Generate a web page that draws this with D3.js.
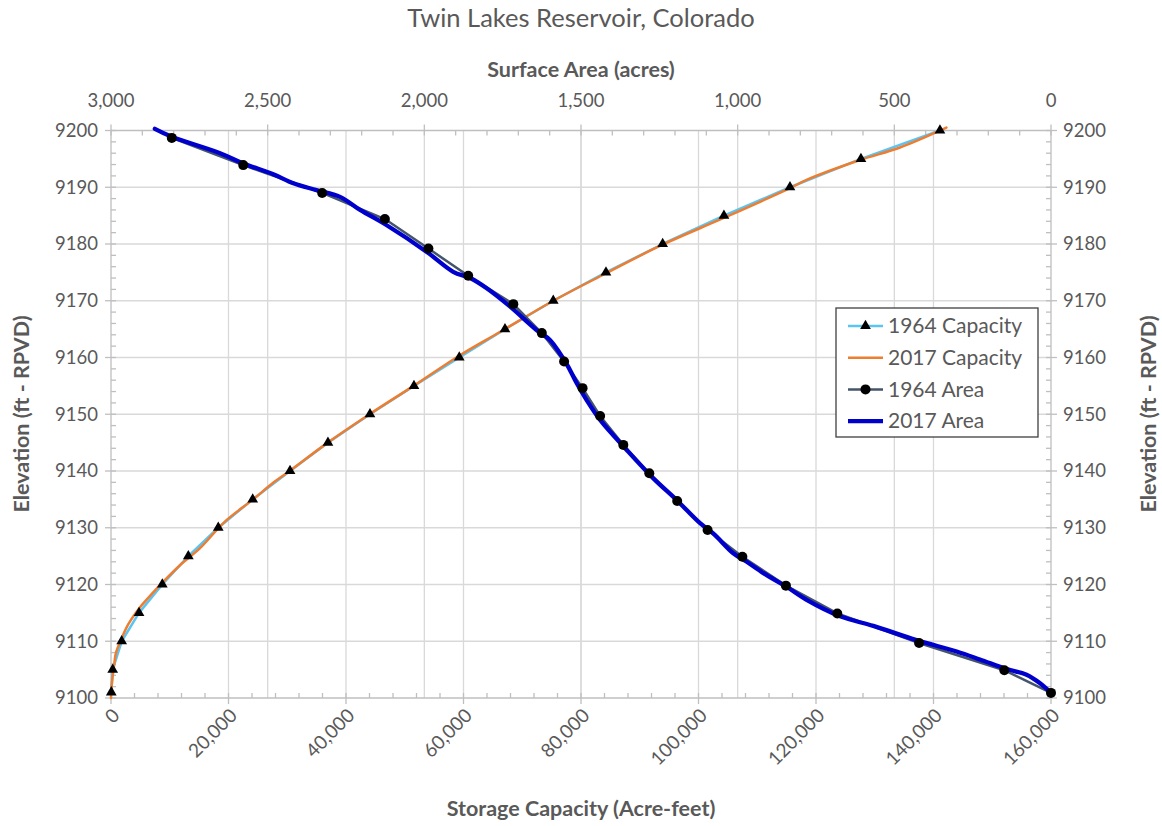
<!DOCTYPE html>
<html>
<head>
<meta charset="utf-8">
<script src="https://cdn.jsdelivr.net/npm/d3@7"></script>
<style>
  body { margin: 0; background: #fff; }
  text { font-family: Lato, "Open Sans", sans-serif; fill: #595959; }
</style>
</head>
<body>
<svg id="chart" width="1162" height="826"></svg>
<script>
// elevation (ft) vs storage capacity (acre-feet), 1964 survey
var cap64Elev = [9101, 9105, 9110, 9115, 9120, 9125, 9130, 9135, 9140, 9145, 9150, 9155, 9160, 9165, 9170, 9175, 9180, 9185, 9190, 9195, 9200];
var cap64Val = [50, 290, 1820, 4770, 8730, 13160, 18260, 24120, 30470, 36930, 44080, 51570, 59280, 67060, 75280, 84250, 93900, 104330, 115570, 127650, 141100];

// 2017 survey capacity
var cap17Elev = [9100, 9102, 9104, 9106, 9108, 9110, 9113, 9116, 9118, 9120.5, 9123.4, 9126.4, 9131, 9135, 9138, 9140, 9145, 9150, 9155, 9160.4, 9164.5, 9170, 9174.8, 9179.8, 9184.5, 9189.7, 9191.3, 9194.8, 9197, 9200.5];
var cap17Val = [0, 100, 300, 550, 850, 1600, 2950, 4940, 6640, 8900, 11740, 15150, 19300, 24200, 27700, 30400, 36900, 44000, 51500, 59400, 66200, 75300, 84200, 93700, 104100, 115300, 118400, 127500, 134300, 142200];

// surface area (acres), 1964 survey
var area64Elev = [9100.9, 9104.9, 9109.7, 9114.9, 9119.8, 9124.9, 9129.6, 9134.7, 9139.6, 9144.6, 9149.7, 9154.6, 9159.3, 9164.3, 9169.4, 9174.4, 9179.2, 9184.4, 9189.0, 9193.9, 9198.7];
var area64Val = [0, 149, 421, 682, 846, 985, 1096, 1193, 1282, 1365, 1439, 1495, 1554, 1625, 1716, 1860, 1987, 2126, 2326, 2578, 2806];

// surface area, 2017 survey
var area17Elev = [9100.9, 9102.6, 9104.1, 9105.1, 9106.8, 9108.2, 9110.2, 9112.7, 9114.4, 9117.3, 9119.6, 9122.0, 9124.0, 9125.5, 9129.0, 9130.8, 9134.9, 9138.7, 9143.7, 9149.0, 9152.5, 9155.5, 9158.4, 9160.7, 9163.1, 9164.8, 9169.0, 9172.2, 9174.0, 9175.1, 9178.6, 9183.3, 9186.0, 9188.3, 9189.5, 9190.7, 9192.3, 9194.2, 9196.0, 9198.9, 9200.3];
var area17Val = [0, 35, 78, 141, 227, 301, 429, 567, 673, 780, 844, 918, 971, 1014, 1078, 1120, 1195, 1269, 1354, 1439, 1482, 1514, 1541, 1567, 1599, 1641, 1727, 1801, 1854, 1908, 1992, 2120, 2205, 2269, 2344, 2418, 2482, 2578, 2652, 2806, 2860];

var elevTicks = [9100, 9110, 9120, 9130, 9140, 9150, 9160, 9170, 9180, 9190, 9200];
var capTicks = [0, 20000, 40000, 60000, 80000, 100000, 120000, 140000, 160000];
var areaTicks = [3000, 2500, 2000, 1500, 1000, 500, 0];

var seriesNames = ['1964 Capacity', '2017 Capacity', '1964 Area', '2017 Area'];
var seriesColors = ['#5bc4f1', '#ed7d31', '#44546a', '#0000cc'];

var zip = (e, v) => e.map((d, i) => ({ elev: d, val: v[i] }));

var svg = d3.select('#chart');
var L = 111, R = 1051, T = 130.5, B = 698;

var x = d3.scaleLinear().domain([0, 160000]).range([L, R]);
var xTop = d3.scaleLinear().domain([3000, 0]).range([L, R]);
var y = d3.scaleLinear().domain([9100, 9200]).range([B, T]);
var fmt = d3.format(',');

// gridlines
var grid = svg.append('g').attr('stroke', '#d9d9d9').attr('stroke-width', 1.3);
grid.selectAll('.hg').data(elevTicks.slice(1, -1)).enter().append('line')
  .attr('x1', L).attr('x2', R).attr('y1', d => y(d)).attr('y2', d => y(d));
grid.selectAll('.vg').data(capTicks.slice(1, -1)).enter().append('line')
  .attr('y1', T).attr('y2', B).attr('x1', d => x(d)).attr('x2', d => x(d));
grid.selectAll('.vg2').data(areaTicks.slice(1, -1)).enter().append('line')
  .attr('y1', T).attr('y2', B).attr('x1', d => xTop(d)).attr('x2', d => xTop(d));

// axes
var axisCol = '#bfbfbf';
var ax = svg.append('g').attr('stroke', axisCol).attr('stroke-width', 1.3);
ax.append('line').attr('x1', L).attr('x2', R).attr('y1', B).attr('y2', B);
ax.append('line').attr('x1', L).attr('x2', R).attr('y1', T).attr('y2', T);
ax.append('line').attr('x1', L).attr('x2', L).attr('y1', T).attr('y2', B);
ax.append('line').attr('x1', R).attr('x2', R).attr('y1', T).attr('y2', B);

var minorElev = d3.range(9100, 9201, 2);
var minorCap = d3.range(0, 160001, 4000);
var minorArea = d3.range(0, 3001, 100);

ax.selectAll('.lm').data(minorElev).enter().append('line')
  .attr('x1', L).attr('x2', L + 5).attr('y1', d => y(d)).attr('y2', d => y(d));
ax.selectAll('.rm').data(minorElev).enter().append('line')
  .attr('x1', R - 5).attr('x2', R).attr('y1', d => y(d)).attr('y2', d => y(d));
ax.selectAll('.lM').data(elevTicks).enter().append('line')
  .attr('x1', L - 6).attr('x2', L).attr('y1', d => y(d)).attr('y2', d => y(d));
ax.selectAll('.rM').data(elevTicks).enter().append('line')
  .attr('x1', R).attr('x2', R + 6).attr('y1', d => y(d)).attr('y2', d => y(d));
ax.selectAll('.bm').data(minorCap).enter().append('line')
  .attr('x1', d => x(d)).attr('x2', d => x(d)).attr('y1', B - 5).attr('y2', B);
ax.selectAll('.bM').data(capTicks).enter().append('line')
  .attr('x1', d => x(d)).attr('x2', d => x(d)).attr('y1', B).attr('y2', B + 6);
ax.selectAll('.tm').data(minorArea).enter().append('line')
  .attr('x1', d => xTop(d)).attr('x2', d => xTop(d)).attr('y1', T).attr('y2', T + 5);
ax.selectAll('.tM').data(areaTicks).enter().append('line')
  .attr('x1', d => xTop(d)).attr('x2', d => xTop(d)).attr('y1', T - 6).attr('y2', T);

// tick labels
var tickFont = '18.5px';
svg.selectAll('.ly').data(elevTicks).enter().append('text')
  .attr('x', L - 13).attr('y', d => y(d)).attr('dy', '0.35em')
  .attr('text-anchor', 'end').style('font-size', tickFont).text(d => d);
svg.selectAll('.ry').data(elevTicks).enter().append('text')
  .attr('x', R + 12).attr('y', d => y(d)).attr('dy', '0.35em')
  .attr('text-anchor', 'start').style('font-size', tickFont).text(d => d);
svg.selectAll('.tx').data(areaTicks).enter().append('text')
  .attr('x', d => xTop(d)).attr('y', T - 24).attr('text-anchor', 'middle')
  .style('font-size', tickFont).text(d => fmt(d));
svg.selectAll('.bx').data(capTicks).enter().append('text')
  .attr('transform', d => 'translate(' + (x(d) + 5) + ',' + (B + 14) + ') rotate(-45)')
  .attr('text-anchor', 'end').attr('dy', '0.35em')
  .style('font-size', '19px').text(d => fmt(d));

// titles
svg.append('text').attr('x', 581).attr('y', 27).attr('text-anchor', 'middle')
  .style('font-size', '25.5px').text('Twin Lakes Reservoir, Colorado');
svg.append('text').attr('x', 581).attr('y', 77).attr('text-anchor', 'middle')
  .style('font-size', '21.5px').style('font-weight', 'bold').text('Surface Area (acres)');
svg.append('text').attr('x', 581).attr('y', 816).attr('text-anchor', 'middle')
  .style('font-size', '21.5px').style('font-weight', 'bold').text('Storage Capacity (Acre-feet)');
svg.append('text').attr('transform', 'translate(29,414) rotate(-90)').attr('text-anchor', 'middle')
  .style('font-size', '21.5px').style('font-weight', 'bold').text('Elevation (ft - RPVD)');
svg.append('text').attr('transform', 'translate(1156,414) rotate(-90)').attr('text-anchor', 'middle')
  .style('font-size', '21.5px').style('font-weight', 'bold').text('Elevation (ft - RPVD)');

// lines
var capLine = d3.line().x(d => x(d.val)).y(d => y(d.elev));
var areaLine = d3.line().x(d => xTop(d.val)).y(d => y(d.elev));
var smoothCap = d3.line().x(d => x(d.val)).y(d => y(d.elev)).curve(d3.curveCatmullRom.alpha(0.5));
var smoothArea = d3.line().x(d => xTop(d.val)).y(d => y(d.elev)).curve(d3.curveCatmullRom.alpha(0.5));

var cap64 = zip(cap64Elev, cap64Val);
var cap17 = zip(cap17Elev, cap17Val);
var area64 = zip(area64Elev, area64Val);
var area17 = zip(area17Elev, area17Val);

var lines = svg.append('g').attr('fill', 'none').attr('stroke-linejoin', 'round').attr('stroke-linecap', 'round');
lines.append('path').datum(cap64).attr('d', capLine).attr('stroke', seriesColors[0]).attr('stroke-width', 2.5);
lines.append('path').datum(cap17).attr('d', smoothCap).attr('stroke', seriesColors[1]).attr('stroke-width', 2.5);
lines.append('path').datum(area64).attr('d', areaLine).attr('stroke', seriesColors[2]).attr('stroke-width', 2.5);
lines.append('path').datum(area17).attr('d', smoothArea).attr('stroke', seriesColors[3]).attr('stroke-width', 4.3);

// markers
var tri = d3.symbol().type(d3.symbolTriangle).size(50);
svg.append('g').selectAll('path').data(cap64).enter().append('path')
  .attr('d', tri).attr('fill', '#000')
  .attr('transform', d => 'translate(' + x(d.val) + ',' + y(d.elev) + ')');
svg.append('g').selectAll('circle').data(area64).enter().append('circle')
  .attr('r', 5).attr('fill', '#000')
  .attr('cx', d => xTop(d.val)).attr('cy', d => y(d.elev));

// legend
var lg = svg.append('g').attr('transform', 'translate(836,308)');
lg.append('rect').attr('width', 202).attr('height', 129).attr('fill', '#fff')
  .attr('stroke', '#404040').attr('stroke-width', 1.3);
var items = lg.selectAll('.it').data(seriesNames).enter().append('g')
  .attr('transform', (d, i) => 'translate(0,' + (18 + i * 31.7) + ')');
items.append('line').attr('x1', 12).attr('x2', 47).attr('y1', 0).attr('y2', 0)
  .attr('stroke', (d, i) => seriesColors[i]).attr('stroke-width', (d, i) => i === 3 ? 4.3 : 2.5);
items.filter((d, i) => i === 0).append('path').attr('d', tri).attr('fill', '#000')
  .attr('transform', 'translate(29.5,0)');
items.filter((d, i) => i === 2).append('circle').attr('r', 5).attr('fill', '#000')
  .attr('cx', 29.5).attr('cy', 0);
items.append('text').attr('x', 52).attr('dy', '0.35em').style('font-size', '21px').text(d => d);
</script>
</body>
</html>
